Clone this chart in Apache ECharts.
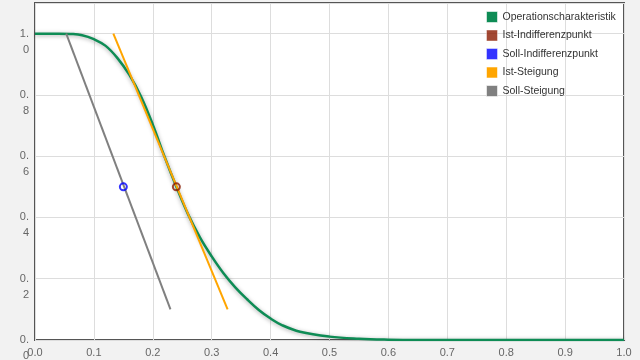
<!DOCTYPE html>
<html>
<head>
<meta charset="utf-8">
<script src="https://cdn.jsdelivr.net/npm/echarts@6/dist/echarts.min.js"></script>
<style>
html,body{margin:0;padding:0;background:#f2f2f2;}
#c{width:640px;height:360px;}
</style>
</head>
<body>
<div id="c"></div>
<script>
// Data
const ocP = [0.00, 0.04, 0.06, 0.08, 0.10, 0.12, 0.14, 0.16, 0.18, 0.20, 0.22, 0.24, 0.26, 0.28, 0.30, 0.32, 0.34, 0.36, 0.38, 0.40, 0.42, 0.45, 0.50, 0.55, 0.60, 0.65, 0.70, 0.80, 0.90, 1.00];
const ocPa = [1.0, 1.0, 0.999, 0.995, 0.982, 0.960, 0.920, 0.866, 0.795, 0.703, 0.598, 0.500, 0.410, 0.335, 0.273, 0.218, 0.172, 0.133, 0.098, 0.070, 0.048, 0.027, 0.011, 0.004, 0.001, 0.0, 0.0, 0.0, 0.0, 0.0];
const istPoint = [0.24, 0.50];
const sollPoint = [0.15, 0.50];
const istSlopeX = [0.133, 0.327];
const istSlopeY = [1.0, 0.10];
const sollSlopeX = [0.053, 0.230];
const sollSlopeY = [1.0, 0.10];
const seriesNames = ['Operationscharakteristik', 'Ist-Indifferenzpunkt', 'Soll-Indifferenzpunkt', 'Ist-Steigung', 'Soll-Steigung'];
const colors = ['#0e8c55', '#8b1a00', '#0000ff', '#ffa500', '#808080'];

const zip = (a, b) => a.map((v, i) => [v, b[i]]);

const chart = echarts.init(document.getElementById('c'), null, {renderer: 'canvas'});
chart.setOption({
  animation: false,
  backgroundColor: '#f2f2f2',
  grid: {left: 35, right: 16, top: 3, bottom: 20, outerBoundsMode: 'none', containLabel: false,
         show: true, backgroundColor: '#ffffff', borderColor: '#555555', borderWidth: 2},
  legend: {
    orient: 'vertical', left: 481, top: 6, itemWidth: 11, itemHeight: 11, itemGap: 6.5,
    icon: 'rect',
    textStyle: {fontSize: 10.5, color: '#333333', fontFamily: 'Liberation Sans, Arial, sans-serif'},
    data: seriesNames.map((n, i) => ({name: n, icon: 'rect', itemStyle: {color: colors[i], borderColor: 'rgba(255,255,255,0.55)', borderWidth: 1}}))
  },
  xAxis: {
    type: 'value', min: 0, max: 1, interval: 0.1,
    axisLine: {show: false}, axisTick: {show: false},
    splitLine: {lineStyle: {color: '#dddddd', width: 1}},
    axisLabel: {fontSize: 11, color: '#666666', margin: 7, fontFamily: 'Liberation Sans, Arial, sans-serif', formatter: v => v.toFixed(1)}
  },
  yAxis: {
    type: 'value', min: 0, max: 1.1, interval: 0.2,
    axisLine: {show: false}, axisTick: {show: false},
    splitLine: {lineStyle: {color: '#dddddd', width: 1}},
    axisLabel: {fontSize: 11, color: '#666666', margin: 6, lineHeight: 16, fontFamily: 'Liberation Sans, Arial, sans-serif',
      formatter: v => {
        const r = Math.round(v * 10);
        if (Math.abs(v * 10 - r) > 1e-6 || r % 2 !== 0) return '';
        return '\n' + v.toFixed(1).replace('.', '.\n');
      }}
  },
  series: [
    {name: seriesNames[0], type: 'line', data: zip(ocP, ocPa), smooth: 0.4, showSymbol: false, z: 3,
     lineStyle: {color: colors[0], width: 2.5, shadowBlur: 4, shadowColor: 'rgba(0,0,0,0.35)', shadowOffsetY: 1},
     itemStyle: {color: colors[0]}},
    {name: seriesNames[1], type: 'scatter', data: [istPoint], symbol: 'circle', symbolSize: 7, z: 6,
     itemStyle: {color: 'rgba(255,255,255,0)', borderColor: colors[1], borderWidth: 2}},
    {name: seriesNames[2], type: 'scatter', data: [sollPoint], symbol: 'circle', symbolSize: 7, z: 6,
     itemStyle: {color: 'rgba(255,255,255,0)', borderColor: colors[2], borderWidth: 2}},
    {name: seriesNames[3], type: 'line', data: zip(istSlopeX, istSlopeY), showSymbol: false, z: 4,
     lineStyle: {color: colors[3], width: 2}, itemStyle: {color: colors[3]}},
    {name: seriesNames[4], type: 'line', data: zip(sollSlopeX, sollSlopeY), showSymbol: false, z: 4,
     lineStyle: {color: colors[4], width: 2}, itemStyle: {color: colors[4]}}
  ]
});
</script>
</body>
</html>
